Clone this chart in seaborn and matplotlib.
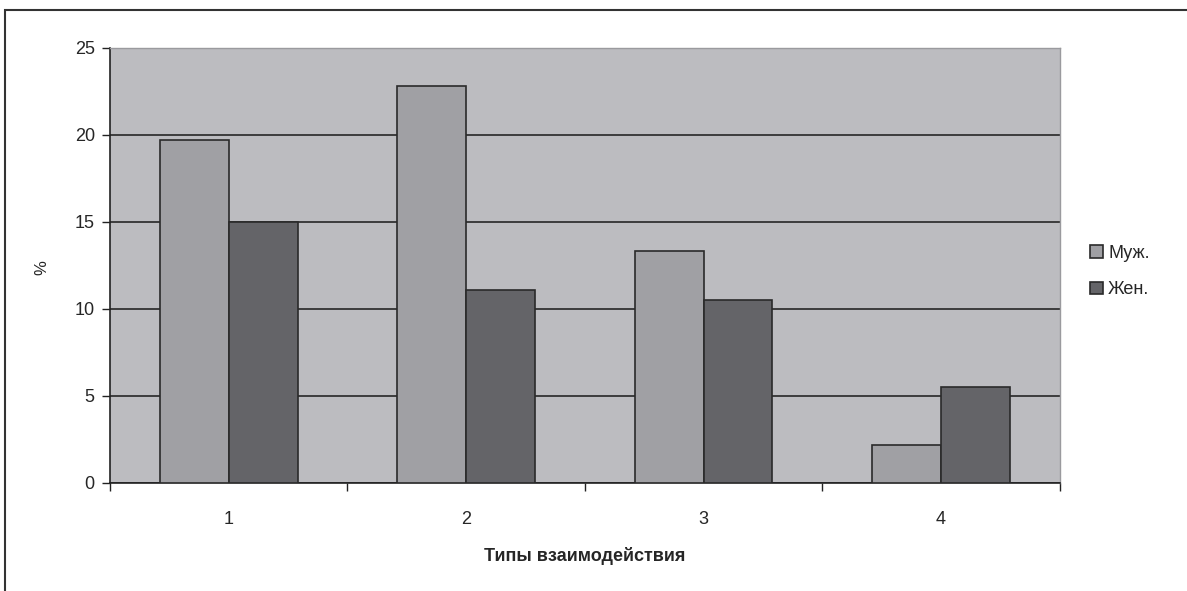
import matplotlib
matplotlib.use("Agg")
import matplotlib.pyplot as plt
import numpy as np
import pandas as pd
import seaborn as sns
from matplotlib.patches import Rectangle

# ── Data ──────────────────────────────────────────────────────────────────────
categories = ["1", "2", "3", "4"]
series_names = ["Муж.", "Жен."]
male_values = [19.7, 22.8, 13.3, 2.2]
female_values = [15.0, 11.1, 10.5, 5.5]
y_ticks = [0, 5, 10, 15, 20, 25]

df = pd.DataFrame({
    "type": categories * 2,
    "sex": [series_names[0]] * 4 + [series_names[1]] * 4,
    "value": male_values + female_values,
})

sns.set_style("white", {"xtick.bottom": True, "ytick.left": True})
plt.rcParams["font.family"] = ["Liberation Sans", "DejaVu Sans"]

fig = plt.figure(figsize=(11.87, 5.91), dpi=100)
ax = fig.add_axes([0.0927, 0.183, 0.800, 0.736])
ax.set_facecolor("#bcbcc0")

sns.barplot(
    data=df, x="type", y="value", hue="sex",
    palette=["#a0a0a4", "#646468"], width=0.58,
    edgecolor="#2a2a2a", linewidth=1.2, saturation=1, ax=ax,
    legend=True, zorder=3,
)

ax.set_ylim(0, 25)
ax.set_xlim(-0.5, 3.5)
ax.set_yticks(y_ticks)
ax.yaxis.grid(True, color="#1a1a1a", linewidth=1.1, zorder=1)
ax.set_axisbelow(True)

ax.set_xticks(range(len(categories)))
ax.set_xticklabels(categories)
ax.set_xticks(np.arange(-0.5, 4.0, 1.0), minor=True)
ax.tick_params(axis="x", which="major", bottom=False, length=0, pad=20, labelsize=13)
ax.tick_params(axis="x", which="minor", bottom=True, length=6, width=1,
               direction="out", color="#222222")
ax.tick_params(axis="y", left=True, length=6, width=1, direction="out",
               color="#222222", labelsize=13, pad=5)

ax.set_xlabel("Типы взаимодействия", fontsize=13, fontweight="bold", labelpad=14)
ax.set_ylabel("%", fontsize=12)
ax.yaxis.set_label_coords(-0.064, 0.494)

for side in ["left", "bottom"]:
    ax.spines[side].set_color("#222222")
    ax.spines[side].set_linewidth(1.2)
for side in ["top", "right"]:
    ax.spines[side].set_color("#9a9a9e")
    ax.spines[side].set_linewidth(1.0)

leg = ax.legend(
    loc="center left", bbox_to_anchor=(1.015, 0.486), frameon=False,
    fontsize=13, handlelength=0.7, handleheight=0.7, handletextpad=0.3,
    labelspacing=1.1,
)

# frame around whole chart
fig.patches.append(Rectangle((0.0042, -0.1), 1.2, 1.083, transform=fig.transFigure,
                             fill=False, edgecolor="#333333", linewidth=1.5))

fig.savefig("out.png", dpi=100)
plt.close(fig)
